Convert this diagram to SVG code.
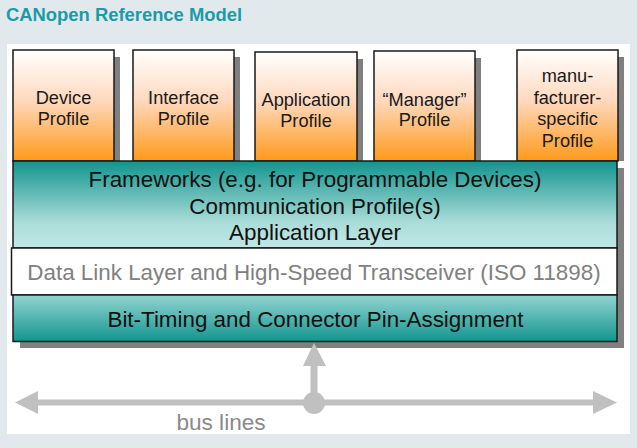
<svg xmlns="http://www.w3.org/2000/svg" width="637" height="448" viewBox="0 0 637 448">
<defs>
<linearGradient id="gOrange" x1="0" y1="0" x2="0" y2="1">
<stop offset="0" stop-color="#ffffff"/>
<stop offset="0.45" stop-color="#ffd9bf"/>
<stop offset="1" stop-color="#ff9a1a"/>
</linearGradient>
<linearGradient id="gTealDown" x1="0" y1="0" x2="0" y2="1">
<stop offset="0" stop-color="#11948e"/>
<stop offset="0.7" stop-color="#a9dcd8"/>
<stop offset="1" stop-color="#c0e8e5"/>
</linearGradient>
<linearGradient id="gTealUp" x1="0" y1="0" x2="0" y2="1">
<stop offset="0" stop-color="#92d4d0"/>
<stop offset="1" stop-color="#13958f"/>
</linearGradient>
</defs>
<style>
.box{stroke:#1a1a1a;stroke-width:1.5}
.sh{fill:#808080}
.pt{font-family:"Liberation Sans",Arial,sans-serif;font-size:18.2px;fill:#1a1a1a;text-anchor:middle}
.lt{font-family:"Liberation Sans",Arial,sans-serif;font-size:22.4px;fill:#111;text-anchor:middle}
.bus{fill:#c0c0c0}
</style>
<rect width="637" height="448" fill="#e2e9ec"/>
<rect x="7" y="44" width="623" height="390" fill="#ffffff"/>
<text x="6" y="21" font-family="'Liberation Sans',Arial,sans-serif" font-size="18.4" font-weight="bold" fill="#1a9ba8">CANopen Reference Model</text>

<rect class="sh" x="20" y="168" width="604" height="180"/>

<g id="device-profile">
<rect class="sh" x="114" y="57" width="6" height="104"/>
<rect class="box" x="13" y="50" width="101" height="111" fill="url(#gOrange)"/>
<text class="pt" x="63.5" y="104">Device</text>
<text class="pt" x="63.5" y="125">Profile</text>
</g>
<g id="interface-profile">
<rect class="sh" x="234" y="57" width="6" height="104"/>
<rect class="box" x="133" y="50" width="101" height="111" fill="url(#gOrange)"/>
<text class="pt" x="183.5" y="104">Interface</text>
<text class="pt" x="183.5" y="125">Profile</text>
</g>
<g id="application-profile">
<rect class="sh" x="357" y="59" width="6" height="102"/>
<rect class="box" x="255" y="52" width="102" height="109" fill="url(#gOrange)"/>
<text class="pt" x="306" y="106">Application</text>
<text class="pt" x="306" y="127">Profile</text>
</g>
<g id="manager-profile">
<rect class="sh" x="475" y="58" width="6" height="103"/>
<rect class="box" x="374" y="51" width="101" height="110" fill="url(#gOrange)"/>
<text class="pt" x="424.5" y="106">“Manager”</text>
<text class="pt" x="424.5" y="126">Profile</text>
</g>
<g id="manufacturer-profile">
<rect class="sh" x="618" y="57" width="6" height="104"/>
<rect class="box" x="517" y="50" width="101" height="111" fill="url(#gOrange)"/>
<text class="pt" x="567.5" y="82">manu-</text>
<text class="pt" x="567.5" y="103.5">facturer-</text>
<text class="pt" x="567.5" y="125">specific</text>
<text class="pt" x="567.5" y="146.5">Profile</text>
</g>

<g id="application-layer">
<rect class="box" x="13" y="161" width="604" height="87" fill="url(#gTealDown)"/>
<text class="lt" x="315" y="187">Frameworks (e.g. for Programmable Devices)</text>
<text class="lt" x="315" y="213.5">Communication Profile(s)</text>
<text class="lt" x="315" y="240">Application Layer</text>
</g>
<g id="data-link-layer">
<rect class="box" x="11.5" y="248" width="605.5" height="47" fill="#ffffff"/>
<text class="lt" x="314" y="280" style="fill:#808080">Data Link Layer and High-Speed Transceiver (ISO 11898)</text>
</g>
<g id="bit-timing">
<rect class="box" x="13" y="295" width="604" height="46.5" fill="url(#gTealUp)"/>
<text class="lt" x="315.5" y="327">Bit-Timing and Connector Pin-Assignment</text>
</g>

<g id="connectors">
<rect class="bus" x="36" y="399.5" width="559" height="6"/>
<polygon class="bus" points="15,402.5 38,391 38,414"/>
<polygon class="bus" points="617,402.5 593,391 593,414"/>
<rect class="bus" x="310.5" y="364" width="7" height="40"/>
<polygon class="bus" points="314,343 303,366 326,366"/>
<circle class="bus" cx="314" cy="403" r="11"/>
</g>
<text x="221" y="430" font-family="'Liberation Sans',Arial,sans-serif" font-size="22.6" fill="#8a8a8a" text-anchor="middle">bus lines</text>
</svg>
